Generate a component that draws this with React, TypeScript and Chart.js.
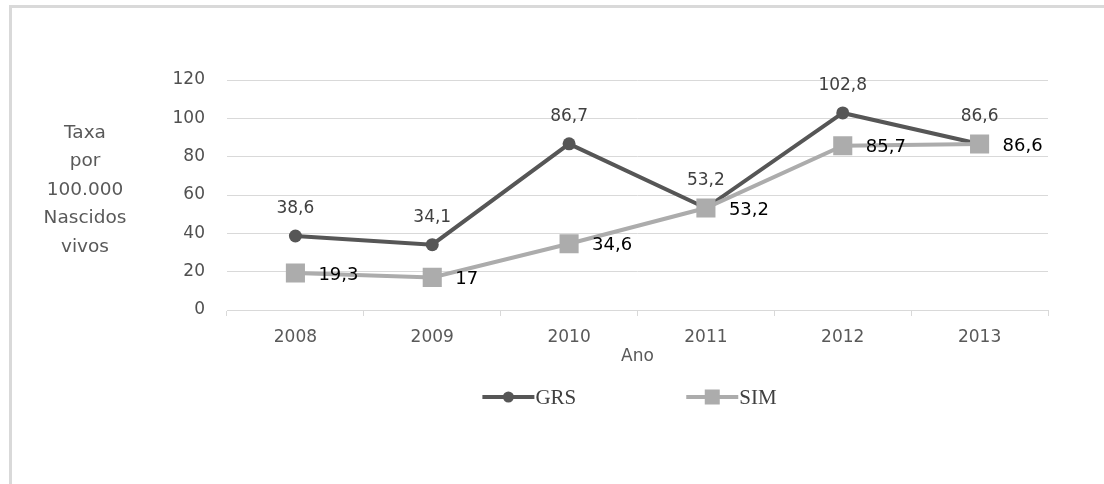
import React, { useEffect, useRef } from "react";
import { Chart, registerables } from "chart.js";

Chart.register(...registerables);

const years = ["2008", "2009", "2010", "2011", "2012", "2013"];
const grsValues = [38.6, 34.1, 86.7, 53.2, 102.8, 86.6];
const simValues = [19.3, 17, 34.6, 53.2, 85.7, 86.6];
const seriesNames = ["GRS", "SIM"];
const yTitleLines = ["Taxa", "por", "100.000", "Nascidos", "vivos"];
const xTitle = "Ano";
const yMin = 0;
const yMax = 120;
const yStep = 20;

const GRS_COLOR = "#565656";
const SIM_COLOR = "#acacac";
const FRAME_COLOR = "#d9d9d9";
const SANS = "'DejaVu Sans', sans-serif";
const SERIF = "'Liberation Serif', 'DejaVu Serif', serif";

const fmt = (v: number) => String(v).replace(".", ",");

const framePlugin = {
  id: "pageFrame",
  beforeDraw(chart: any) {
    const ctx = chart.ctx;
    ctx.save();
    ctx.fillStyle = "#ffffff";
    ctx.fillRect(0, 0, chart.width, chart.height);
    ctx.fillStyle = FRAME_COLOR;
    ctx.fillRect(9, 5, chart.width - 9, 3);
    ctx.fillRect(9, 5, 3, chart.height - 5);
    ctx.restore();
  },
};

const valueLabels = {
  id: "valueLabels",
  afterDatasetsDraw(chart: any) {
    const ctx = chart.ctx;
    chart.data.datasets.forEach((ds: any, i: number) => {
      const meta = chart.getDatasetMeta(i);
      meta.data.forEach((pt: any, j: number) => {
        const txt = fmt(ds.data[j]);
        ctx.save();
        ctx.textBaseline = "middle";
        if (i === 0) {
          ctx.font = `17px ${SANS}`;
          ctx.fillStyle = "#404040";
          ctx.textAlign = "center";
          ctx.fillText(txt, pt.x, pt.y - 27);
        } else {
          ctx.font = `18px ${SANS}`;
          ctx.fillStyle = "#000000";
          ctx.textAlign = "left";
          ctx.fillText(txt, pt.x + 23, pt.y + 2);
        }
        ctx.restore();
      });
    });
  },
};

const yTitlePlugin = {
  id: "yTitleHoriz",
  afterDraw(chart: any) {
    const { ctx, chartArea } = chart;
    const lh = 28.5;
    const cx = chartArea.left - 142;
    const cy = (chartArea.top + chartArea.bottom) / 2 - 5;
    const startY = cy - ((yTitleLines.length - 1) * lh) / 2;
    ctx.save();
    ctx.font = `18.5px ${SANS}`;
    ctx.fillStyle = "#595959";
    ctx.textAlign = "center";
    ctx.textBaseline = "middle";
    yTitleLines.forEach((t, k) => ctx.fillText(t, cx, startY + k * lh));
    ctx.restore();
  },
};

const legendPlugin = {
  id: "customLegend",
  afterDraw(chart: any) {
    const { ctx, chartArea } = chart;
    const y = chartArea.bottom + 87;
    const lineLen = 52;
    const gap = 110;
    ctx.save();
    ctx.font = `21px ${SERIF}`;
    const widths = seriesNames.map((n) => lineLen + 1 + ctx.measureText(n).width);
    const total = widths.reduce((a, b) => a + b, 0) + gap * (widths.length - 1);
    let x = (chartArea.left + chartArea.right) / 2 - total / 2 - 8;
    chart.data.datasets.forEach((ds: any, i: number) => {
      ctx.strokeStyle = ds.borderColor;
      ctx.lineWidth = ds.borderWidth;
      ctx.beginPath();
      ctx.moveTo(x, y);
      ctx.lineTo(x + lineLen, y);
      ctx.stroke();
      ctx.fillStyle = ds.backgroundColor;
      const mx = x + lineLen / 2;
      if (ds.pointStyle === "rect") {
        ctx.fillRect(mx - 7.5, y - 7.5, 15, 15);
      } else {
        ctx.beginPath();
        ctx.arc(mx, y, 5.5, 0, Math.PI * 2);
        ctx.fill();
      }
      ctx.fillStyle = "#404040";
      ctx.textAlign = "left";
      ctx.textBaseline = "middle";
      ctx.fillText(seriesNames[i], x + lineLen + 1, y + 1);
      x += widths[i] + gap;
    });
    ctx.restore();
  },
};

export default function App() {
  const ref = useRef<HTMLCanvasElement | null>(null);

  useEffect(() => {
    document.body.style.margin = "0";
    document.body.style.overflow = "hidden";
    if (!ref.current) return;
    const chart = new Chart(ref.current, {
      type: "line",
      data: {
        labels: years,
        datasets: [
          {
            label: seriesNames[0],
            data: grsValues,
            borderColor: GRS_COLOR,
            backgroundColor: GRS_COLOR,
            borderWidth: 4,
            pointStyle: "circle",
            pointRadius: 6.5,
            pointBorderWidth: 0,
            pointHoverRadius: 6.5,
            tension: 0,
            order: 1,
          },
          {
            label: seriesNames[1],
            data: simValues,
            borderColor: SIM_COLOR,
            backgroundColor: SIM_COLOR,
            borderWidth: 4,
            pointStyle: "rect",
            pointRadius: 13.5,
            pointBorderWidth: 0,
            pointHoverRadius: 13.5,
            tension: 0,
            order: 0,
          },
        ],
      },
      options: {
        responsive: false,
        animation: false,
        layout: { padding: { top: 80, right: 56, bottom: 117, left: 0 } },
        plugins: {
          legend: { display: false },
          tooltip: { enabled: false },
          title: { display: false },
        },
        scales: {
          x: {
            offset: true,
            grid: {
              offset: true,
              drawOnChartArea: false,
              drawTicks: true,
              tickLength: 6,
              color: FRAME_COLOR,
              lineWidth: 1,
            },
            border: { display: true, color: FRAME_COLOR, width: 1 },
            ticks: {
              font: { family: SANS, size: 17 },
              color: "#595959",
              padding: 11,
              maxRotation: 0,
            },
            title: {
              display: true,
              text: xTitle,
              font: { family: SANS, size: 17 },
              color: "#595959",
              padding: 0,
            },
            afterFit(scale: any) {
              scale.height = 57;
            },
          },
          y: {
            min: yMin,
            max: yMax,
            ticks: {
              stepSize: yStep,
              font: { family: SANS, size: 17 },
              color: "#505050",
              padding: 22,
            },
            grid: { drawTicks: false, color: FRAME_COLOR, lineWidth: 1 },
            border: { display: false },
            afterFit(scale: any) {
              scale.width = 227;
            },
          },
        },
      },
      plugins: [framePlugin, valueLabels, yTitlePlugin, legendPlugin],
    });
    return () => chart.destroy();
  }, []);

  return (
    <div
      style={{
        position: "fixed",
        left: 0,
        top: 0,
        width: 1104,
        height: 484,
        background: "#ffffff",
        overflow: "hidden",
      }}
    >
      <canvas
        ref={ref}
        width={1104}
        height={484}
        style={{ position: "absolute", left: 0, top: 0, width: 1104, height: 484 }}
      />
      <div
        style={{
          position: "absolute",
          left: 1094,
          top: 8,
          width: 10,
          height: 476,
          background: "#ffffff",
          zIndex: 10,
        }}
      />
    </div>
  );
}
